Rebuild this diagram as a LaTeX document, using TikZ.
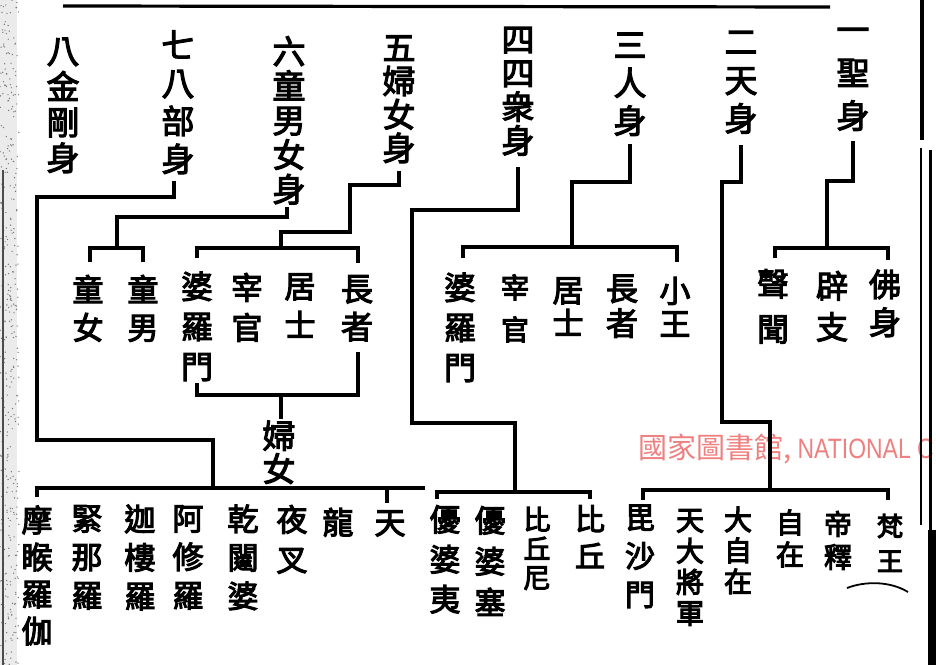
\documentclass[tikz,border=0pt]{standalone}
\usepackage{fontspec}
\newfontfamily\cjk{Noto Sans CJK TC}
\newfontfamily\wmlatin{Liberation Sans}[FakeStretch=0.82]
\definecolor{wmred}{RGB}{238,128,128}
\newcommand\heavyon{\special{pdf:literal direct 2 Tr 1.1 w}}
\newcommand\heavyoff{\special{pdf:literal direct 0 Tr}}
\begin{document}
\begin{tikzpicture}[x=1bp,y=-1bp,
  conn/.style={line width=3.4bp, line join=miter},
  lab/.style n args={2}{font=\cjk\fontsize{#1}{#2}\selectfont, align=center, inner sep=0pt,
     execute at begin node={\heavyon\rule{0pt}{0.9em}}, execute at end node={\rule[-0.12em]{0pt}{0.12em}\heavyoff}},
]
\useasboundingbox (0,0) rectangle (936,665);
\begin{scope}
\clip (0,0) rectangle (936,665);
\fill[white] (0,0) rectangle (936,665);
% left speckled margin
\fill[black!8] (0,0) rectangle (17,665);
\pgfmathsetseed{7}
\foreach \i in {1,...,380}{\fill[black!55] ({rnd*19},{rnd*665}) circle (0.7);}
\draw[line width=1.2bp, black!70] (3,170) -- (3,665);
% watermark text
\node[anchor=base west, text=wmred, inner sep=0pt] (wm) at (638,458)
  {\cjk\fontsize{29bp}{29bp}\selectfont 國家圖書館,\wmlatin\fontsize{28bp}{28bp}\selectfont\ NATIONAL C};
% right border
\draw[line width=3.2bp] (922,0) -- (922,140);
\draw[line width=1.8bp] (921,148) -- (921,525);
\draw[line width=3bp] (930,150) -- (930,665);
\fill (928,530) rectangle (936,665);
\end{scope}

% top line
\draw[line width=3.2bp] (63,6) -- (830,7);

% ---------- top row ----------
\node[lab={33bp}{43bp}] (sheng) at (853,80) {一\\聖\\身};
\node[lab={33bp}{38.5bp}] (tian) at (741,83) {二\\天\\身};
\node[lab={33bp}{38bp}] (ren) at (630,85) {三\\人\\身};
\node[lab={33bp}{33.7bp}] (sizhong) at (518,92) {四\\四\\衆\\身};
\node[lab={33bp}{33.5bp}] (funv) at (399,100) {五\\婦\\女\\身};
\node[lab={33bp}{34.5bp}] (tongnannv) at (289,121) {六\\童\\男\\女\\身};
\node[lab={33bp}{38bp}] (babu) at (178,103) {七\\八\\部\\身};
\node[lab={33bp}{35.7bp}] (jingang) at (63,106) {八\\金\\剛\\身};

% ---------- second row ----------
\node[lab={32bp}{38bp}] (foshen) at (885,304) {佛\\身};
\node[lab={32bp}{41bp}] (bizhi) at (832,307) {辟\\支};
\node[lab={32bp}{45bp}] (shengwen) at (773,307) {聲\\聞};
\node[lab={31bp}{33bp}] (xiaowang) at (675,308) {小\\王};
\node[lab={32bp}{35bp}] (zhangzheA) at (622,307) {長\\者};
\node[lab={31bp}{33bp}] (jushiA) at (568,308) {居\\士};
\node[lab={28bp}{42bp}] (zaiguanA) at (515,309) {宰\\官};
\node[lab={32bp}{40bp}] (poluomenA) at (460,328) {婆\\羅\\門};
\node[lab={32bp}{38bp}] (zhangzheB) at (357,309) {長\\者};
\node[lab={31bp}{39bp}] (jushiB) at (300,307) {居\\士};
\node[lab={31bp}{40bp}] (zaiguanB) at (247,308) {宰\\官};
\node[lab={32bp}{40bp}] (poluomenB) at (197,327) {婆\\羅\\門};
\node[lab={31bp}{38bp}] (tongnan) at (143,309) {童\\男};
\node[lab={31bp}{38bp}] (tongnv) at (88,309) {童\\女};
\node[lab={33bp}{33bp}] (funvB) at (279,453) {婦\\女};

% ---------- bottom row ----------
\node[lab={31bp}{37bp}] (moholuojia) at (37,576) {摩\\睺\\羅\\伽};
\node[lab={31bp}{38.5bp}] (jinnaluo) at (87,558) {緊\\那\\羅};
\node[lab={31bp}{38.5bp}] (jialouluo) at (140,558) {迦\\樓\\羅};
\node[lab={31bp}{38.5bp}] (axiuluo) at (188,558) {阿\\修\\羅};
\node[lab={31bp}{38.5bp}] (qiantapo) at (243,558) {乾\\闥\\婆};
\node[lab={31bp}{40bp}] (yecha) at (292,540) {夜\\叉};
\node[lab={31bp}{38bp}] (long) at (338,522) {龍};
\node[lab={31bp}{38bp}] (tianB) at (390,522) {天};
\node[lab={31bp}{40bp}] (youpoyi) at (445,560) {優\\婆\\夷};
\node[lab={31bp}{41bp}] (youposai) at (490,562) {優\\婆\\塞};
\node[lab={27bp}{29bp}] (biqiuni) at (537,549) {比\\丘\\尼};
\node[lab={30bp}{37bp}] (biqiu) at (590,538) {比\\丘};
\node[lab={30bp}{38.5bp}] (pishamen) at (640,557) {毘\\沙\\門};
\node[lab={28bp}{31bp}] (tiandajiangjun) at (690,568) {天\\大\\將\\軍};
\node[lab={28bp}{31bp}] (dazizai) at (738,551) {大\\自\\在};
\node[lab={28bp}{32bp}] (zizai) at (790,539) {自\\在};
\node[lab={28bp}{33bp}] (dishi) at (838,541) {帝\\釋};
\node[lab={26bp}{35bp}] (fanwang) at (890,544) {梵\\王};
\draw[line width=1.8bp] (847,588) .. controls (865,581) and (890,581) .. (908,592);

% ---------- elbow coordinates ----------
\coordinate (eA) at (827,181); \coordinate (jA) at (827,248);
\coordinate (eB1) at (722,182); \coordinate (eB2) at (722,422); \coordinate (eB3) at (770,422); \coordinate (jB) at (770,490);
\coordinate (eC) at (572,182); \coordinate (jC) at (572,247);
\coordinate (eD1) at (412,210); \coordinate (eD2) at (412,423); \coordinate (eD3) at (515,423); \coordinate (jD) at (515,492);
\coordinate (eE1) at (350,185); \coordinate (eE2) at (350,232); \coordinate (eE3) at (281,232); \coordinate (jE) at (281,248); \coordinate (jE2) at (281,395);
\coordinate (eF) at (117,217); \coordinate (jF) at (117,248);
\coordinate (eG1) at (37,197); \coordinate (eG2) at (37,440); \coordinate (eG3) at (213,440); \coordinate (jG) at (213,488);
\coordinate (eG4) at (425,488);

% ---------- stems ----------
\draw[conn] ([yshift=-9]sheng.south) |- (eA) -- (jA);
\draw[conn] ([yshift=-10]tian.south) |- (eB1) -- (eB2) -- (eB3) -- (jB);
\draw[conn] ([yshift=-7]ren.south) |- (eC) -- (jC);
\draw[conn] ([yshift=-10]sizhong.south) |- (eD1) -- (eD2) -- (eD3) -- (jD);
\draw[conn] ([yshift=-6]funv.south) |- (eE1) -- (eE2) -- (eE3) -- (jE);
\draw[conn] ([xshift=-2,yshift=-1]tongnannv.south) |- (eF) -- (jF);
\draw[conn] ([xshift=-4,yshift=-5]babu.south) |- (eG1) -- (eG2) -- (eG3) -- (jG);

% ---------- brackets ----------
\draw[conn] ([xshift=2,yshift=-10]shengwen.north |- jA) -- ([xshift=2]shengwen.north |- jA) -- ([xshift=3]foshen.north |- jA) -- ([xshift=3,yshift=-12]foshen.north |- jA);
\draw[conn] ([xshift=3,yshift=-10]pishamen.north |- jB) -- ([xshift=3]pishamen.north |- jB) -- ([xshift=-2]fanwang.north |- jB) -- ([xshift=-2,yshift=-10]fanwang.north |- jB);
\draw[conn] ([xshift=3,yshift=-11]poluomenA.north |- jC) -- ([xshift=3]poluomenA.north |- jC) -- ([xshift=2]xiaowang.north |- jC) -- ([xshift=2,yshift=-15]xiaowang.north |- jC);
\draw[conn] ([xshift=-8,yshift=-7]youpoyi.north |- jD) -- ([xshift=-8]youpoyi.north |- jD) -- (biqiu.north |- jD) -- ([yshift=-7]biqiu.north |- jD);
\draw[conn] ([yshift=-10]poluomenB.north |- jE) -- (poluomenB.north |- jE) -- ([xshift=1]zhangzheB.north |- jE) -- ([xshift=1,yshift=-15]zhangzheB.north |- jE);
\draw[conn] ([xshift=2,yshift=-14]tongnv.north |- jF) -- ([xshift=2]tongnv.north |- jF) -- (tongnan.north |- jF) -- ([yshift=-14]tongnan.north |- jF);
\draw[conn] ([yshift=-9]moholuojia.north |- jG) -- (moholuojia.north |- jG) -- (eG4);
\draw[conn] ([xshift=-3]tianB.north |- jG) -- ([xshift=-3,yshift=-15]tianB.north |- jG);
% lower bracket gathering the four into 婦女
\draw[conn] ([yshift=12]poluomenB.south |- jE2) -- (poluomenB.south |- jE2) -- ([xshift=1]zhangzheB.south |- jE2) -- ([xshift=1,yshift=43]zhangzheB.south |- jE2);
\draw[conn] (jE2) -- ([yshift=2]jE2 |- funvB.north);
\end{tikzpicture}
\end{document}
